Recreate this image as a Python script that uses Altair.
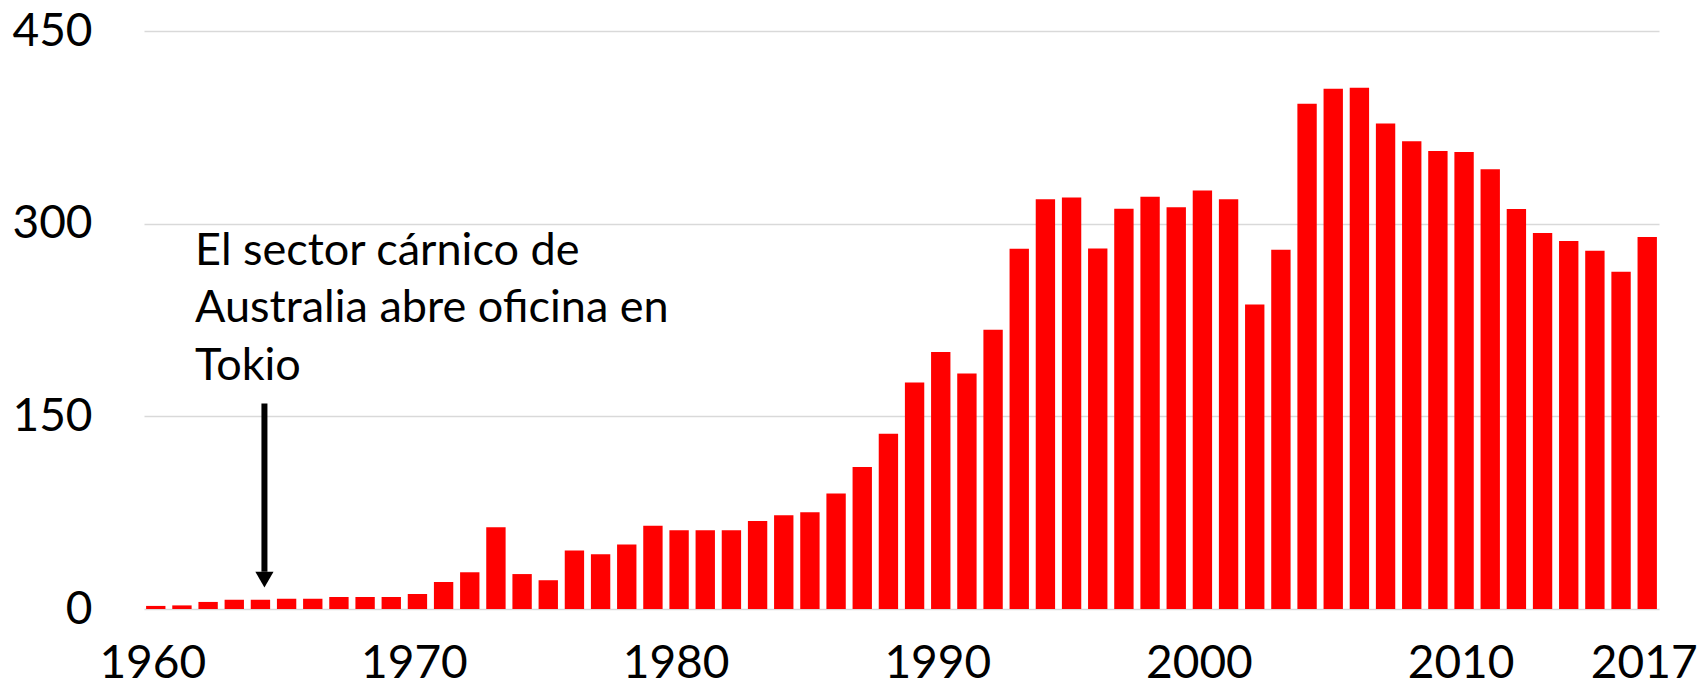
import altair as alt
import pandas as pd

years = list(range(1960, 2018))
values = [
    2.4, 2.8, 5.5, 7.2, 7.2, 7.9, 7.9, 9.3, 9.3, 9.3,
    11.7, 21.0, 28.6, 63.7, 27.2, 22.4, 45.5, 42.7, 50.3, 64.8,
    61.3, 61.3, 61.3, 68.5, 73.0, 75.4, 89.9, 110.6, 136.4, 176.4,
    200.0, 183.3, 217.4, 280.4, 319.0, 320.4, 280.7, 311.7, 321.0, 312.8,
    325.9, 319.0, 237.0, 279.7, 393.4, 405.0, 405.8, 377.9, 364.1, 356.5,
    355.8, 342.4, 311.4, 292.8, 286.6, 279.0, 262.5, 289.7,
]
x_tick_values = [1960, 1970, 1980, 1990, 2000, 2010, 2017]
y_tick_values = [0, 150, 300, 450]

annotation_text = "El sector cárnico de\nAustralia abre oficina en\nTokio"
annotation_year = 1962
annotation_y = 267.9
arrow_year = 1964
arrow_top = 160
arrow_bottom = 29
arrow_head = 22.8

FONT = "Lato"

df = pd.DataFrame({"year": years, "value": values})
ann = pd.DataFrame({"year": [annotation_year], "y": [annotation_y], "label": [annotation_text]})
arr = pd.DataFrame({"year": [arrow_year], "y": [arrow_top], "y2": [arrow_bottom], "h": [arrow_head]})

x_scale = alt.Scale(paddingInner=0.26, paddingOuter=0.08)
y_scale = alt.Scale(domain=[0, 450], nice=False)

bars = alt.Chart(df).mark_bar(color="#ff0000").encode(
    x=alt.X(
        "year:O",
        scale=x_scale,
        axis=alt.Axis(
            values=x_tick_values,
            title=None,
            labelAngle=0,
            labelFont=FONT,
            labelFontSize=46,
            labelColor="#000000",
            labelBaseline="alphabetic",
            labelPadding=68,
            labelOffset=-3,
            labelOverlap=False,
            ticks=False,
            tickSize=0,
            domain=False,
            grid=False,
        ),
    ),
    y=alt.Y(
        "value:Q",
        scale=y_scale,
        axis=alt.Axis(
            values=y_tick_values,
            title=None,
            labelFont=FONT,
            labelFontSize=46,
            labelColor="#000000",
            labelPadding=52,
            ticks=False,
            tickSize=0,
            domain=False,
            grid=True,
            gridColor="#d9d9d9",
            gridWidth=1.5,
        ),
    ),
)

shaft = alt.Chart(arr).mark_rule(color="#000000", strokeWidth=6, xOffset=4).encode(
    x="year:O",
    y="y:Q",
    y2="y2:Q",
)

head = alt.Chart(arr).mark_point(
    shape="triangle-down", filled=True, color="#000000", size=330, opacity=1, xOffset=4
).encode(
    x="year:O",
    y="h:Q",
)

text = alt.Chart(ann).mark_text(
    align="left",
    baseline="alphabetic",
    dx=-13,
    font=FONT,
    fontSize=45,
    lineBreak="\n",
    lineHeight=57.5,
    color="#000000",
).encode(
    x="year:O",
    y="y:Q",
    text="label:N",
)

chart = (
    alt.layer(bars, shaft, head, text)
    .properties(
        width=1515,
        height=578,
        autosize=alt.AutoSizeParams(type="none"),
        padding={"left": 136, "top": 23, "right": 38, "bottom": 78},
    )
    .configure(background="#ffffff", view=alt.ViewConfig(stroke=None))
)

chart.save("out.html", embed_options={"renderer": "svg", "actions": False})
